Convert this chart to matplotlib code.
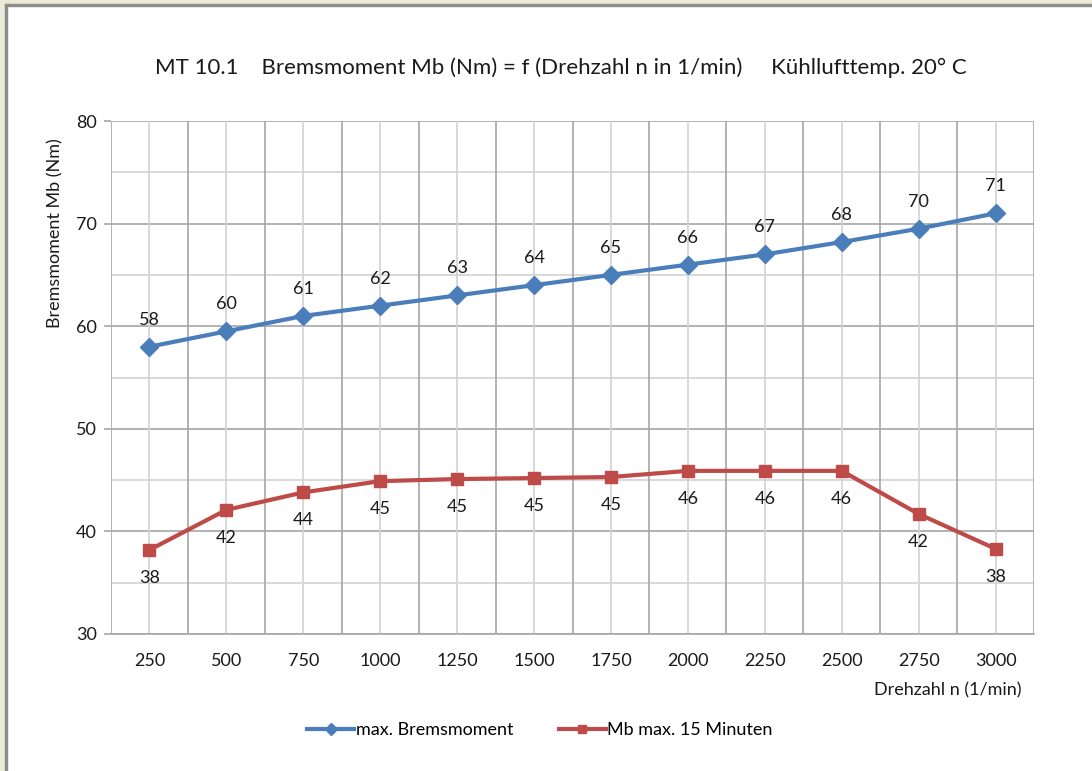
import matplotlib.pyplot as plt
from matplotlib.patches import Rectangle
from matplotlib.ticker import MultipleLocator

plt.rcParams['font.family'] = ['Lato', 'DejaVu Sans']

# Daten
drehzahl = ['250', '500', '750', '1000', '1250', '1500', '1750', '2000', '2250', '2500', '2750', '3000']
mb_max = [58, 59.5, 61, 62, 63, 64, 65, 66, 67, 68.2, 69.5, 71]
mb_15min = [38.2, 42.1, 43.8, 44.9, 45.1, 45.2, 45.3, 45.9, 45.9, 45.9, 41.7, 38.3]

blau = '#4A7EBB'
rot = '#BE4B48'
text_farbe = '#1a1a1a'

fig = plt.figure(figsize=(10.92, 7.71), dpi=100, facecolor='white')

# Rahmen wie im Excel-Fenster
fig.patches.append(Rectangle((0, 0), 5 / 1092, 1, transform=fig.transFigure, color='#ECE9D8', zorder=0))
fig.patches.append(Rectangle((0, 1 - 4 / 771), 1, 4 / 771, transform=fig.transFigure, color='#ECE9D8', zorder=0))
fig.patches.append(Rectangle((5 / 1092, 0), 2 / 1092, 1 - 4 / 771, transform=fig.transFigure, color='#8C8C8C', zorder=1))
fig.patches.append(Rectangle((5 / 1092, 1 - 6 / 771), 1 - 5 / 1092, 2 / 771, transform=fig.transFigure, color='#8C8C8C', zorder=1))

ax = fig.add_axes([111 / 1092, 1 - 634 / 771, 923 / 1092, 513 / 771])

x = list(range(len(drehzahl)))

# Gitternetz
for i in range(len(drehzahl) + 1):
    ax.axvline(i - 0.5, color='#A6A6A6', lw=1.2, zorder=1)
for i in x:
    ax.axvline(i, color='#D2D2D2', lw=1.2, zorder=1)
ax.yaxis.set_major_locator(MultipleLocator(10))
ax.yaxis.set_minor_locator(MultipleLocator(5))
ax.grid(axis='y', which='major', color='#A6A6A6', lw=1.2, zorder=1)
ax.grid(axis='y', which='minor', color='#D2D2D2', lw=1.2, zorder=1)
ax.set_axisbelow(True)

l1, = ax.plot(x, mb_max, color=blau, lw=3, marker='D', markersize=9, label='max. Bremsmoment', zorder=3)
l2, = ax.plot(x, mb_15min, color=rot, lw=3, marker='s', markersize=9, label='Mb max. 15 Minuten', zorder=3)

for xi, v in zip(x, mb_max):
    ax.annotate(f'{v:.0f}', (xi, v), xytext=(0, 27), textcoords='offset pixels',
                ha='center', va='center', fontsize=13, color=text_farbe)
for xi, v in zip(x, mb_15min):
    ax.annotate(f'{v:.0f}', (xi, v), xytext=(0, -28), textcoords='offset pixels',
                ha='center', va='center', fontsize=13, color=text_farbe)

ax.set_xlim(-0.5, len(drehzahl) - 0.5)
ax.set_ylim(30, 80)
ax.set_xticks(x)
ax.set_xticklabels(drehzahl)
ax.tick_params(axis='x', length=0, pad=14, labelsize=13, labelcolor=text_farbe)
ax.tick_params(axis='y', which='major', length=5, width=1.2, color='#A6A6A6', pad=5,
               labelsize=13, labelcolor=text_farbe)
ax.tick_params(axis='y', which='minor', length=0)

for s in ['top', 'right', 'left']:
    ax.spines[s].set_visible(False)
ax.spines['bottom'].set_color('#A6A6A6')
ax.spines['bottom'].set_linewidth(1.2)

fig.text(561 / 1092, 1 - 68 / 771,
         'MT 10.1    Bremsmoment Mb (Nm) = f (Drehzahl n in 1/min)     Kühllufttemp. 20° C',
         ha='center', va='center', fontsize=16, color=text_farbe)
fig.text(55 / 1092, 1 - 233 / 771, 'Bremsmoment Mb (Nm)', rotation=90,
         ha='center', va='center', fontsize=13, color=text_farbe)
fig.text(1022 / 1092, 1 - 690 / 771, 'Drehzahl n (1/min)',
         ha='right', va='center', fontsize=13, color=text_farbe)

fig.legend(handles=[l1, l2], loc='center', bbox_to_anchor=(540 / 1092, 1 - 730 / 771),
           ncol=2, frameon=False, fontsize=13, markerscale=0.7, handlelength=2.6,
           handletextpad=0.1, columnspacing=2.5)

fig.savefig('out.png', dpi=100, facecolor=fig.get_facecolor())
